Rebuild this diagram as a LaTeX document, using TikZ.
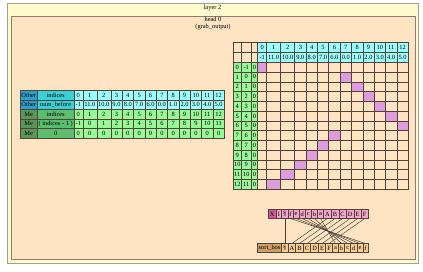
\documentclass[tikz,border=0pt]{standalone}
\usepackage{fontspec}
\setmainfont{Liberation Serif}
\definecolor{outerbg}{RGB}{255,250,205}
\definecolor{outerline}{RGB}{160,160,150}
\definecolor{innerbg}{RGB}{255,228,196}
\definecolor{innerline}{RGB}{140,125,110}
\definecolor{gridc}{RGB}{85,65,55}
\definecolor{cyanl}{RGB}{155,255,255}
\definecolor{otherd}{RGB}{40,160,205}
\definecolor{otherl}{RGB}{55,210,215}
\definecolor{med}{RGB}{90,150,90}
\definecolor{mel}{RGB}{90,190,110}
\definecolor{greenl}{RGB}{150,250,150}
\definecolor{plumc}{RGB}{222,155,222}
\definecolor{xpink}{RGB}{210,90,150}
\definecolor{pinkl}{RGB}{242,165,205}
\definecolor{tand}{RGB}{205,160,105}
\definecolor{tanl}{RGB}{245,205,150}
\definecolor{edgec}{RGB}{70,60,55}
\begin{document}
\begin{tikzpicture}[x=1pt,y=-1pt,
  txt/.style={font=\fontsize{6.4}{6.9}\selectfont, inner sep=0pt},
  cell/.style={draw=gridc, line width=0.55pt, inner sep=0pt, outer sep=0pt, anchor=north west, font=\fontsize{6.4}{7}\selectfont},
  box/.style={line width=0.8pt, inner sep=0pt, outer sep=0pt, anchor=north west},
  conn/.style={draw=edgec, line width=0.45pt}
  ]
\useasboundingbox (0,0) rectangle (423,271);
\fill[white] (0,0) rectangle (423,271);
% clusters
\node[box, draw=outerline, fill=outerbg, minimum width=411.5pt, minimum height=260pt] (layer) at (7,3) {};
\node[txt] (layerlbl) at (212.5,8) {layer 2};
\node[box, draw=innerline, fill=innerbg, minimum width=403.5pt, minimum height=243.5pt] (head) at (11.5,16) {};
\node[txt, align=center] (headlbl) at (213,23.6) {head 0\\(grab\_output)};

% ---------- right grid ----------
% top-left empty cells
\foreach \r in {0,1} {
  \pgfmathsetmacro\yy{42.7+\r*9.77}
  \node[cell, fill=innerbg, minimum width=8.5pt, minimum height=9.77pt] (ea\r) at (233,\yy) {};
  \node[cell, fill=innerbg, minimum width=9.5pt, minimum height=9.77pt] (eb\r) at (241.5,\yy) {};
  \node[cell, fill=innerbg, minimum width=6.7pt, minimum height=9.77pt] (ec\r) at (251,\yy) {};
}
% header cells
\foreach \c/\x/\w/\b in {0/257.7/9/-1, 1/266.7/14/11.0, 2/280.7/14/10.0, 3/294.7/11.35/9.0,
  4/306.05/11.35/8.0, 5/317.4/11.35/7.0, 6/328.75/11.35/6.0, 7/340.1/11.35/0.0, 8/351.45/11.35/1.0,
  9/362.8/11.35/2.0, 10/374.15/11.35/3.0, 11/385.5/11.35/4.0, 12/396.85/11.35/5.0} {
  \node[cell, fill=cyanl, minimum width=\w pt, minimum height=9.77pt] (ga\c) at (\x,42.7) {\c};
  \node[cell, fill=cyanl, minimum width=\w pt, minimum height=9.77pt] (gb\c) at (\x,52.47) {\b};
}
% data rows
\foreach \r/\p in {0/0,1/7,2/8,3/9,4/10,5/11,6/12,7/6,8/5,9/4,10/3,11/2,12/1} {
  \pgfmathsetmacro\yy{42.7+(\r+2)*9.77}
  \pgfmathtruncatemacro\rb{\r-1}
  \node[cell, fill=greenl, minimum width=8.5pt, minimum height=9.77pt] (ra\r) at (233,\yy) {\r};
  \node[cell, fill=greenl, minimum width=9.5pt, minimum height=9.77pt] (rb\r) at (241.5,\yy) {\rb};
  \node[cell, fill=greenl, minimum width=6.7pt, minimum height=9.77pt] (rc\r) at (251,\yy) {0};
  \foreach \c/\x/\w in {0/257.7/9, 1/266.7/14, 2/280.7/14, 3/294.7/11.35,
    4/306.05/11.35, 5/317.4/11.35, 6/328.75/11.35, 7/340.1/11.35, 8/351.45/11.35,
    9/362.8/11.35, 10/374.15/11.35, 11/385.5/11.35, 12/396.85/11.35} {
    \def\fc{innerbg}\ifnum\c=\p\relax\def\fc{plumc}\fi
    \node[cell, fill=\fc, minimum width=\w pt, minimum height=9.77pt] (m\r-\c) at (\x,\yy) {};
  }
}

% ---------- left table ----------
\foreach \r/\la/\lb/\fa/\fb/\fd in {0/Other/indices/otherd/otherl/cyanl,
  1/Other/num\_before/otherd/otherl/cyanl,
  2/Me/indices/med/mel/greenl,
  3/Me/( indices - 1 )/med/mel/greenl,
  4/Me/0/med/mel/greenl} {
  \pgfmathsetmacro\yy{90.5+\r*9.5}
  \node[cell, fill=\fa, minimum width=17.5pt, minimum height=9.5pt] (la\r) at (20,\yy) {\la};
  \node[cell, fill=\fb, minimum width=36.3pt, minimum height=9.5pt] (lb\r) at (37.5,\yy) {\lb};
}
\foreach \c/\x/\w/\b in {0/73.8/9/-1, 1/82.8/14/11.0, 2/96.8/14/10.0, 3/110.8/11.35/9.0,
  4/122.15/11.35/8.0, 5/133.5/11.35/7.0, 6/144.85/11.35/6.0, 7/156.2/11.35/0.0, 8/167.55/11.35/1.0,
  9/178.9/11.35/2.0, 10/190.25/11.35/3.0, 11/201.6/11.35/4.0, 12/212.95/11.35/5.0} {
  \pgfmathtruncatemacro\cm{\c-1}
  \node[cell, fill=cyanl, minimum width=\w pt, minimum height=9.5pt] (ld0-\c) at (\x,90.5) {\c};
  \node[cell, fill=cyanl, minimum width=\w pt, minimum height=9.5pt] (ld1-\c) at (\x,100) {\b};
  \node[cell, fill=greenl, minimum width=\w pt, minimum height=9.5pt] (ld2-\c) at (\x,109.5) {\c};
  \node[cell, fill=greenl, minimum width=\w pt, minimum height=9.5pt] (ld3-\c) at (\x,119) {\cm};
  \node[cell, fill=greenl, minimum width=\w pt, minimum height=9.5pt] (ld4-\c) at (\x,128.5) {0};
}

% ---------- X record ----------
\node[cell, fill=xpink, minimum width=8.5pt, minimum height=9pt] (xl) at (268,209.5) {X};
\node[cell, fill=pinkl, minimum width=5.1pt, minimum height=9pt] (xi) at (276.5,209.5) {I};
\foreach \i/\x/\w/\t in {0/281.6/6.3/§, 1/287.9/5.1/f, 2/293.0/5.95/e, 3/298.95/6.3/d,
  4/305.25/5.95/c, 5/311.2/6.3/b, 6/317.5/5.95/a, 7/323.45/7.85/A, 8/331.3/7.5/B,
  9/338.8/7.5/C, 10/346.3/7.85/D, 11/354.15/7.1/E, 12/361.25/6.75/F} {
  \node[cell, fill=pinkl, minimum width=\w pt, minimum height=9pt] (t\i) at (\x,209.5) {\t};
}
% ---------- sort_bos record ----------
\node[cell, fill=tand, minimum width=24.1pt, minimum height=9pt] (sl) at (257.5,243.5) {sort\_bos};
\foreach \i/\x/\w/\t in {0/281.6/6.3/§, 1/287.9/7.85/A, 2/295.75/7.5/B, 3/303.25/7.5/C,
  4/310.75/7.85/D, 5/318.6/7.1/E, 6/325.7/6.75/F, 7/332.45/5.95/a, 8/338.4/6.3/b,
  9/344.7/5.95/c, 10/350.65/6.3/d, 11/356.95/5.95/e, 12/362.9/5.1/f} {
  \node[cell, fill=tanl, minimum width=\w pt, minimum height=9pt] (b\i) at (\x,243.5) {\t};
}
% connectors
\foreach \i/\j in {0/0,1/12,2/11,3/10,4/9,5/8,6/7,7/1,8/2,9/3,10/4,11/5,12/6} {
  \draw[conn] (t\i.south) -- (b\j.north);
}
\end{tikzpicture}
\end{document}
